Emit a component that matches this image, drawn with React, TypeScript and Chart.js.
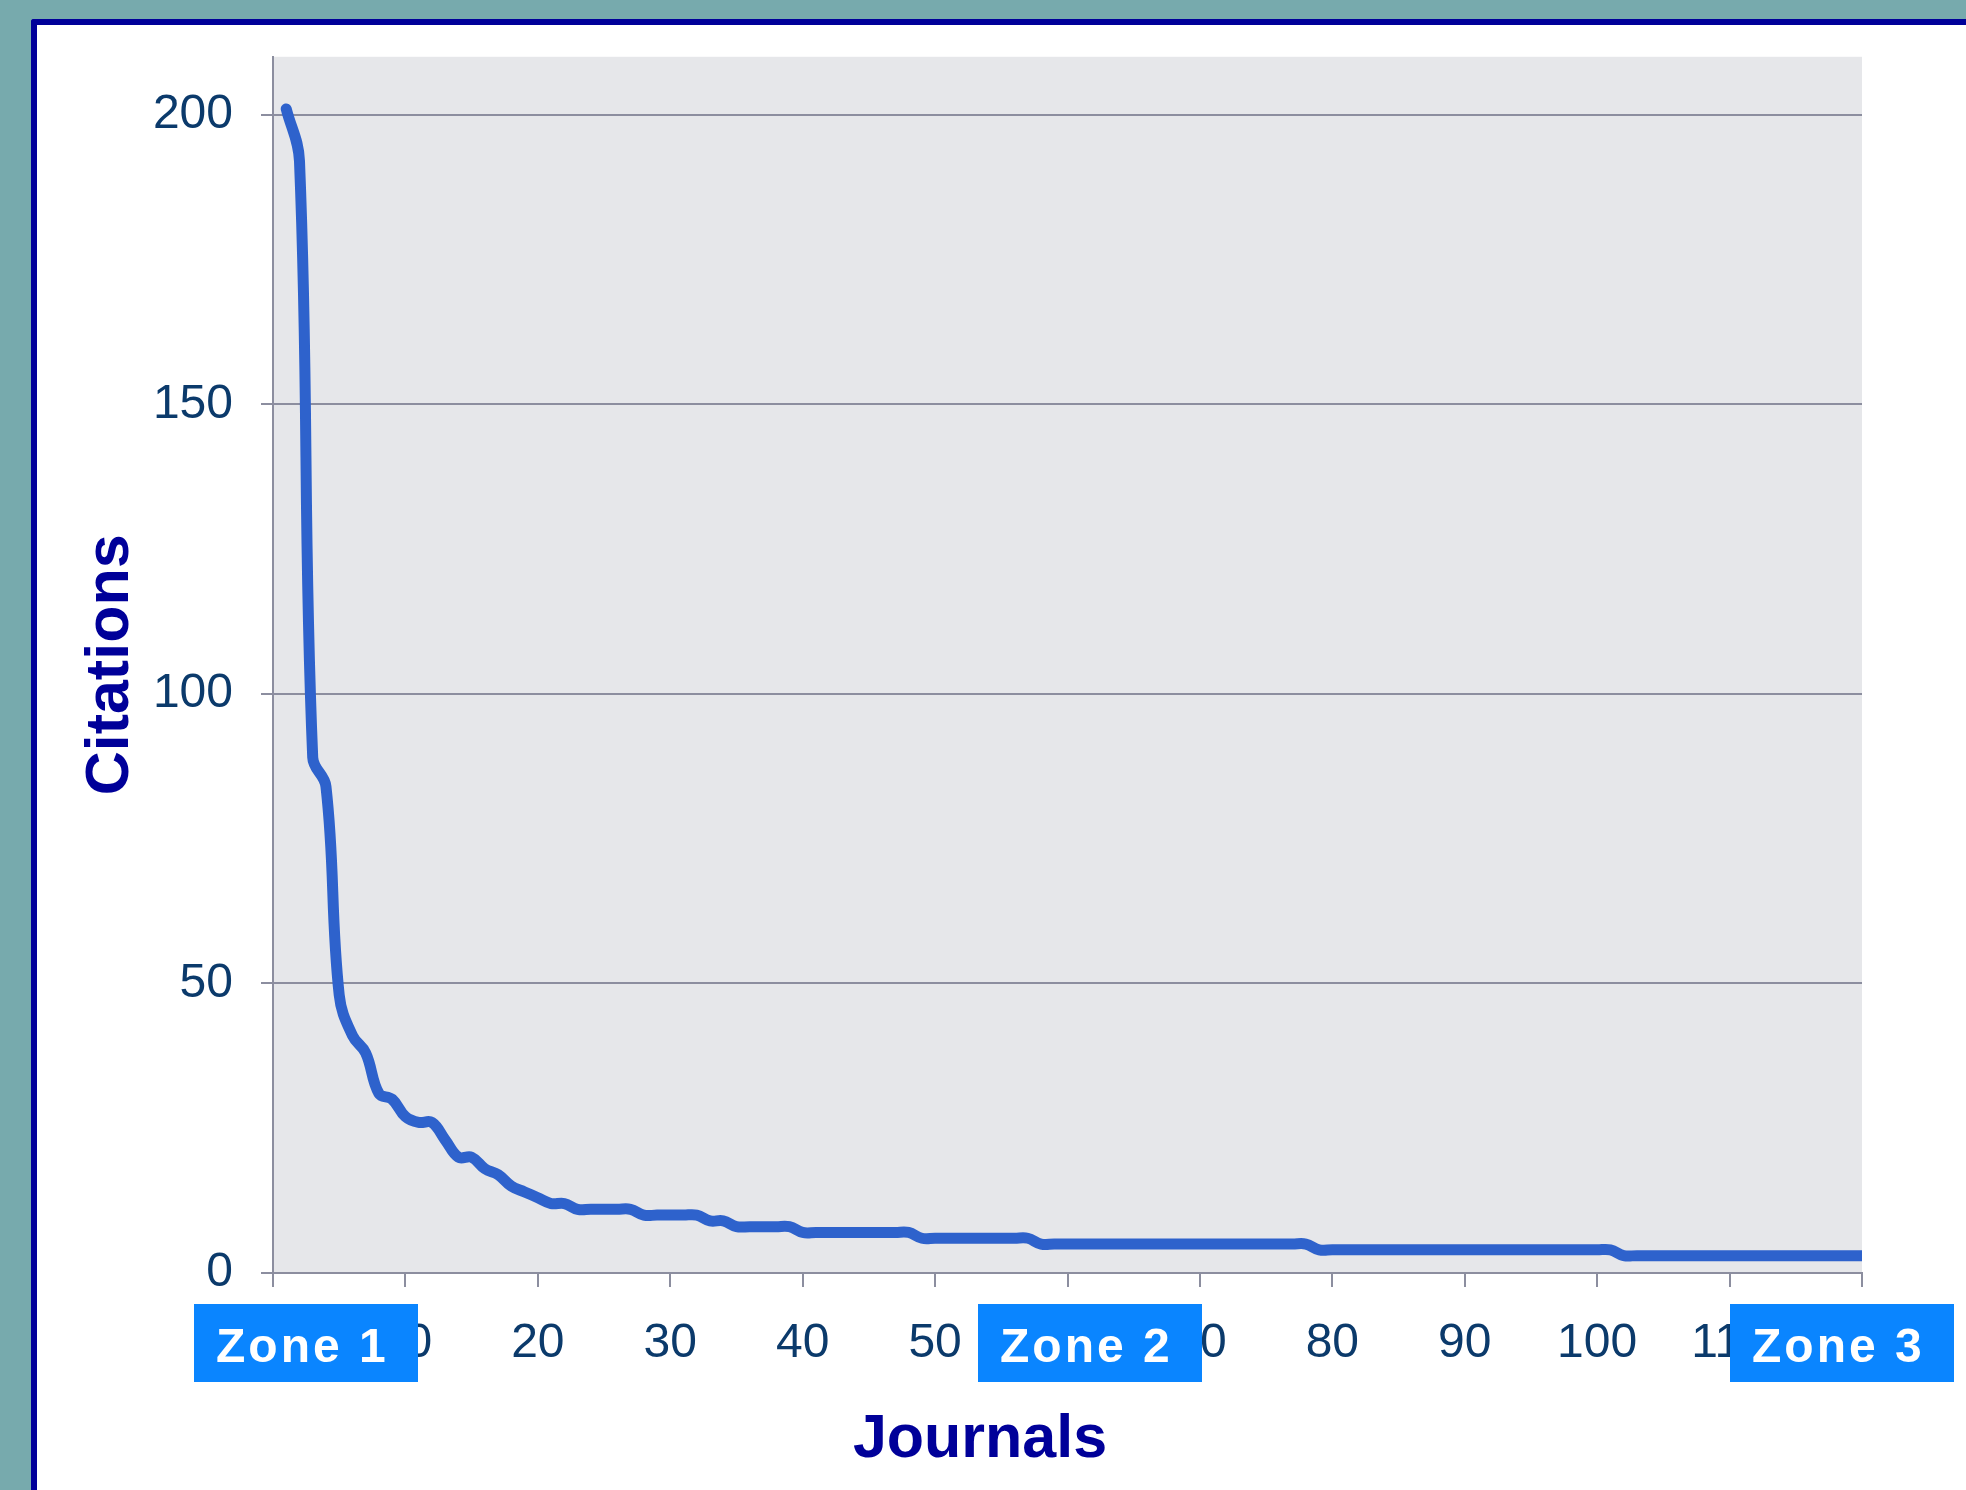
import React, { useEffect, useRef } from 'react';
import { Chart, registerables } from 'chart.js';

Chart.register(...registerables);

// Citations per journal, journals ranked 1..120
const citations = [
  201, 192, 89, 84, 48, 41, 38, 31, 30, 27,
  26, 26, 23, 20, 20, 18, 17, 15, 14, 13,
  12, 12, 11, 11, 11, 11, 11, 10, 10, 10,
  10, 10, 9, 9, 8, 8, 8, 8, 8, 7,
  7, 7, 7, 7, 7, 7, 7, 7, 6, 6,
  6, 6, 6, 6, 6, 6, 6, 5, 5, 5,
  5, 5, 5, 5, 5, 5, 5, 5, 5, 5,
  5, 5, 5, 5, 5, 5, 5, 5, 4, 4,
  4, 4, 4, 4, 4, 4, 4, 4, 4, 4,
  4, 4, 4, 4, 4, 4, 4, 4, 4, 4,
  4, 3, 3, 3, 3, 3, 3, 3, 3, 3,
  3, 3, 3, 3, 3, 3, 3, 3, 3, 3,
];
const journalRank = citations.map((_, i) => i + 1);

const xTickValues = [0, 10, 20, 30, 40, 50, 60, 70, 80, 90, 100, 110, 120];
const yTickValues = [0, 50, 100, 150, 200];
const zoneLabels = ['Zone 1', 'Zone 2', 'Zone 3'];
const xTitle = 'Journals';
const yTitle = 'Citations';

const FONT = '"Liberation Sans", Arial, Helvetica, sans-serif';
const GRID = '#8c8e9f';
const TICK_COLOR = '#0b3a6b';
const TITLE_COLOR = '#000099';
const ZONE_COLOR = '#0a85ff';
const LINE_WIDTH = 11;

// zone box left edges (page px), shared size
const zoneLeft = [194, 978, 1730];
const ZONE_W = 224;
const ZONE_H = 78;
const ZONE_TOP = 1304;

const decorPlugin = {
  id: 'decor',
  beforeDraw(chart: any) {
    const { ctx, chartArea: a } = chart;
    ctx.save();
    ctx.fillStyle = '#e6e7ea';
    ctx.fillRect(a.left, a.top, a.right - a.left, a.bottom - a.top);
    ctx.restore();
  },
  afterDraw(chart: any) {
    const { ctx } = chart;
    ctx.save();
    ctx.font = `bold 61px ${FONT}`;
    ctx.fillStyle = TITLE_COLOR;
    ctx.textAlign = 'center';
    ctx.textBaseline = 'alphabetic';
    ctx.fillText(xTitle, 980, 1457);

    zoneLabels.forEach((label, i) => {
      const x = zoneLeft[i];
      ctx.fillStyle = ZONE_COLOR;
      ctx.fillRect(x, ZONE_TOP, ZONE_W, ZONE_H);
      ctx.fillStyle = '#ffffff';
      ctx.font = `bold 48px ${FONT}`;
      try {
        (ctx as any).letterSpacing = '3px';
      } catch (e) {}
      ctx.textAlign = 'left';
      ctx.textBaseline = 'alphabetic';
      ctx.fillText(label, x + 22, ZONE_TOP + 58);
      try {
        (ctx as any).letterSpacing = '0px';
      } catch (e) {}
    });
    ctx.restore();
  },
};

export default function App() {
  const canvasRef = useRef<HTMLCanvasElement | null>(null);

  useEffect(() => {
    const canvas = canvasRef.current;
    if (!canvas) return;
    const chart = new Chart(canvas, {
      type: 'line',
      data: {
        datasets: [
          {
            data: citations.map((v, i) => ({ x: journalRank[i], y: v })),
            borderColor: '#2e62cc',
            borderWidth: LINE_WIDTH,
            pointRadius: 0,
            tension: 0.4,
            fill: false,
            borderCapStyle: 'round',
            borderJoinStyle: 'round',
          },
        ],
      },
      options: {
        responsive: false,
        animation: false,
        devicePixelRatio: 1,
        elements: { line: { borderWidth: LINE_WIDTH } },
        layout: { padding: { left: 0, top: 55, right: 104, bottom: 0 } },
        plugins: {
          legend: { display: false },
          tooltip: { enabled: false },
        },
        scales: {
          x: {
            type: 'linear',
            min: 0,
            max: 120,
            afterBuildTicks: (s: any) => {
              s.ticks = xTickValues.map((v) => ({ value: v }));
            },
            afterFit: (s: any) => {
              s.height = 217;
            },
            grid: {
              display: true,
              drawOnChartArea: false,
              drawTicks: true,
              tickLength: 14,
              color: GRID,
              lineWidth: 2,
            },
            border: { display: true, color: GRID, width: 2 },
            ticks: {
              autoSkip: false,
              maxRotation: 0,
              padding: 28,
              color: TICK_COLOR,
              font: { family: FONT, size: 48 },
            },
          },
          y: {
            type: 'linear',
            min: 0,
            max: 210,
            afterBuildTicks: (s: any) => {
              s.ticks = yTickValues.map((v) => ({ value: v }));
            },
            afterFit: (s: any) => {
              s.width = 273;
            },
            grid: {
              color: GRID,
              lineWidth: 2,
              drawTicks: true,
              tickLength: 12,
            },
            border: { display: true, color: GRID, width: 2 },
            ticks: {
              padding: 28,
              color: TICK_COLOR,
              font: { family: FONT, size: 48 },
            },
            title: {
              display: true,
              text: yTitle,
              color: TITLE_COLOR,
              font: { family: FONT, size: 61, weight: 'bold' },
              padding: { top: 75, bottom: 0 },
            },
          },
        },
      },
      plugins: [decorPlugin],
    });
    return () => chart.destroy();
  }, []);

  return (
    <div style={{ position: 'fixed', left: 0, top: 0, width: 1966, height: 1490, background: '#77aaad', overflow: 'hidden' }}>
      <div
        style={{
          position: 'absolute',
          left: 31,
          top: 19,
          width: 1966,
          height: 1490,
          background: '#ffffff',
          borderLeft: '6px solid #000099',
          borderTop: '6px solid #000099',
          borderTopLeftRadius: 3,
        }}
      />
      <canvas
        ref={canvasRef}
        width={1966}
        height={1490}
        style={{ position: 'absolute', left: 0, top: 0, width: 1966, height: 1490 }}
      />
    </div>
  );
}
